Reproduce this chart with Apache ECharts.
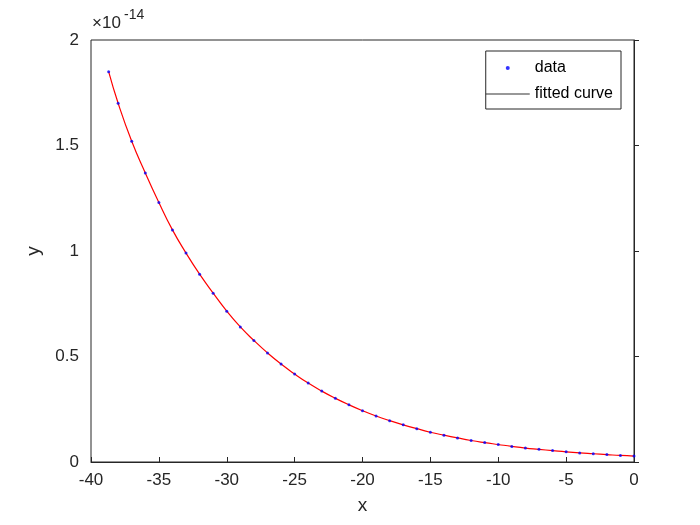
<!DOCTYPE html>
<html>
<head>
<meta charset="utf-8">
<script src="https://cdn.jsdelivr.net/npm/echarts@6/dist/echarts.min.js"></script>
<style>
  html, body { margin: 0; padding: 0; background: #fff; }
  #root { width: 700px; height: 525px; }
</style>
</head>
<body>
<div id="root"></div>
<script>
// values, y in units of 1e-14
const xValues = [-38.7, -38, -37, -36, -35, -34, -33, -32, -31, -30, -29, -28, -27, -26, -25, -24, -23, -22, -21, -20,
  -19, -18, -17, -16, -15, -14, -13, -12, -11, -10, -9, -8, -7, -6, -5, -4, -3, -2, -1, 0]
const yValues = [1.85, 1.70, 1.52, 1.37, 1.23, 1.10, 0.99, 0.89, 0.80, 0.715, 0.64, 0.576, 0.517, 0.464, 0.417, 0.374, 0.336, 0.302, 0.271, 0.243,
  0.218, 0.196, 0.176, 0.158, 0.141, 0.127, 0.114, 0.102, 0.092, 0.083, 0.074, 0.066, 0.060, 0.054, 0.048, 0.043, 0.039, 0.035, 0.031, 0.028]
const yTickLabels = ['0', '0.5', '1', '1.5', '2']

const pts = xValues.map((x, i) => [x, yValues[i]])
const font = 'Liberation Sans, Arial, sans-serif'

const chart = echarts.init(document.getElementById('root'))
chart.setOption({
  animation: false,
  grid: { left: 91, right: 66, top: 40, bottom: 63, show: true, borderColor: '#262626', borderWidth: 1 },
  xAxis: {
    type: 'value', min: -40, max: 0, interval: 5,
    name: 'x', nameLocation: 'middle', nameGap: 34,
    nameTextStyle: { fontFamily: font, fontSize: 19, color: '#262626' },
    axisLine: { lineStyle: { color: '#262626' } },
    axisTick: { inside: true, length: 5, lineStyle: { color: '#262626' } },
    axisLabel: { fontFamily: font, fontSize: 17, color: '#262626', margin: 10 },
    splitLine: { show: false }
  },
  yAxis: {
    type: 'value', min: 0, max: 2, interval: 0.5,
    name: 'y', nameLocation: 'middle', nameGap: 48,
    nameTextStyle: { fontFamily: font, fontSize: 19, color: '#262626' },
    axisLine: { lineStyle: { color: '#262626' } },
    axisTick: { inside: true, length: 5, lineStyle: { color: '#262626' } },
    axisLabel: { fontFamily: font, fontSize: 17, color: '#262626', margin: 12,
      formatter: v => yTickLabels[Math.round(v / 0.5)] },
    splitLine: { show: false }
  },
  legend: {
    right: 79, top: 51, orient: 'vertical', itemGap: 10, itemWidth: 44, itemHeight: 4,
    backgroundColor: '#fff', borderColor: '#262626', borderWidth: 1, borderRadius: 0,
    padding: [9, 8, 7, 0],
    textStyle: { fontFamily: font, fontSize: 16, color: '#000' },
    data: [{ name: 'data', icon: 'circle', itemStyle: { color: '#0000ff' } },
      { name: 'fitted curve', icon: 'path://M0,0 L44,0 L44,1 L0,1 Z', itemStyle: { color: '#333' } }]
  },
  graphic: [{
    type: 'text', left: 92, top: 15,
    style: { text: '×10', font: '17px Liberation Sans, Arial', fill: '#262626' }
  }, {
    type: 'text', left: 124, top: 8,
    style: { text: '-14', font: '14px Liberation Sans, Arial', fill: '#262626' }
  }],
  series: [{
    name: 'fitted curve', type: 'line', data: pts, smooth: true, symbol: 'none',
    lineStyle: { color: '#ff0000', width: 1.2 }, z: 2
  }, {
    name: 'data', type: 'scatter', data: pts, symbolSize: 3,
    itemStyle: { color: '#0000ff' }, z: 3
  }]
})
</script>
</body>
</html>
